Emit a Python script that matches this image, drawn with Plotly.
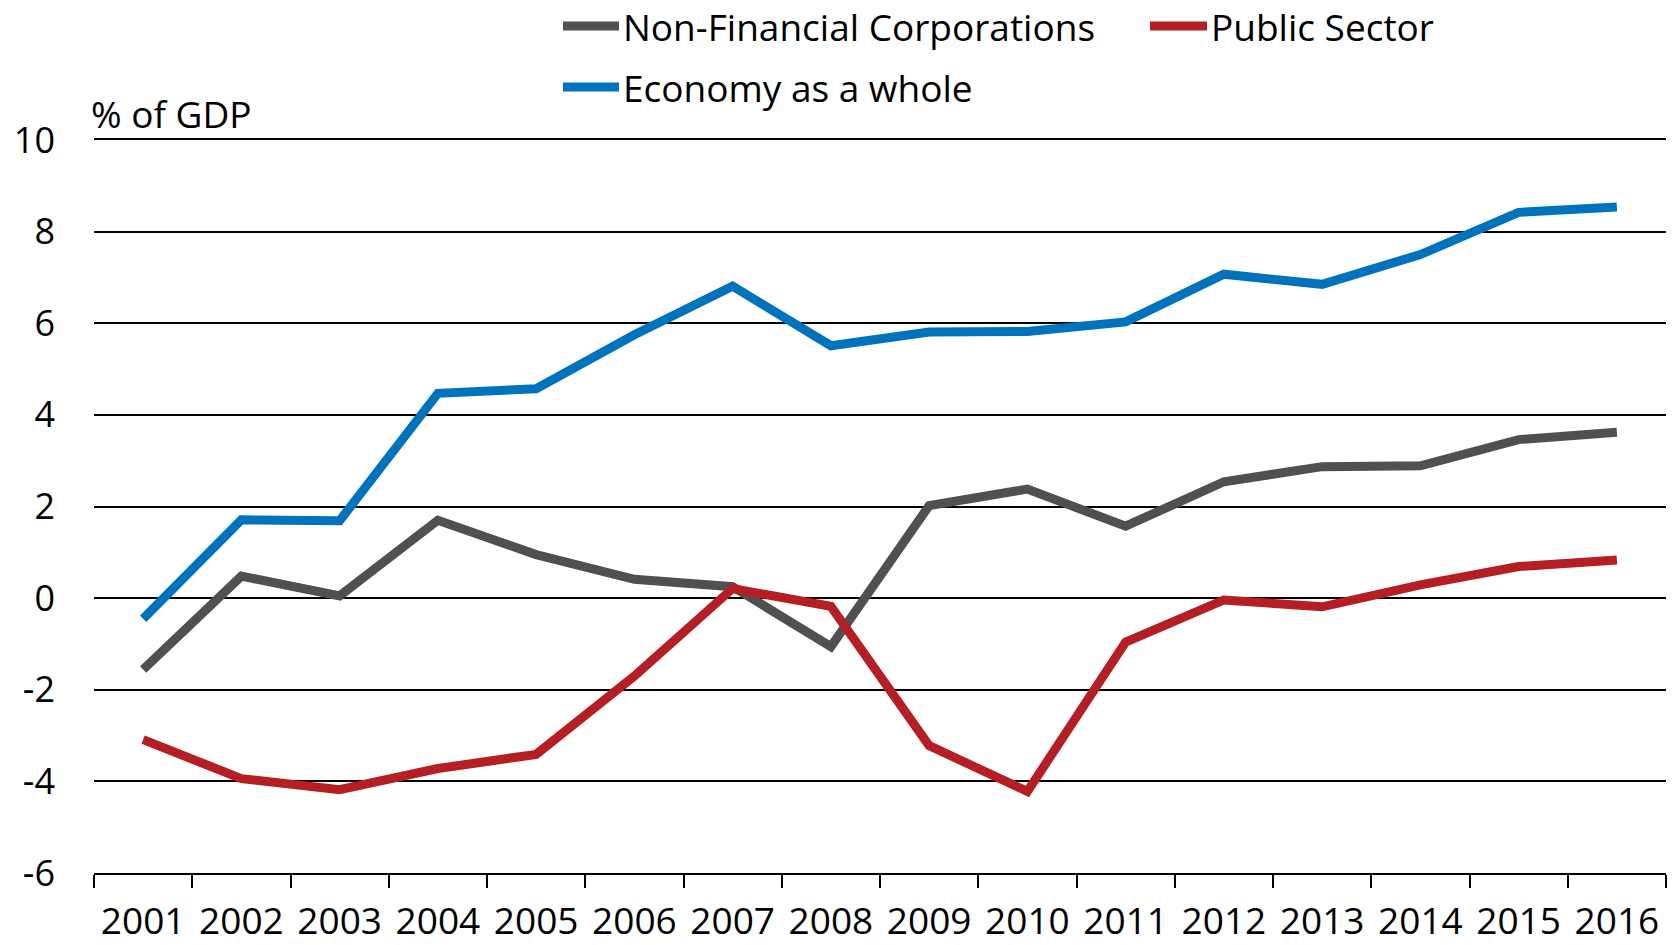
import plotly.graph_objects as go

years = ["2001", "2002", "2003", "2004", "2005", "2006", "2007", "2008",
         "2009", "2010", "2011", "2012", "2013", "2014", "2015", "2016"]

nfc = [-1.56, 0.48, 0.05, 1.70, 0.95, 0.41, 0.25, -1.06,
       2.02, 2.38, 1.57, 2.54, 2.87, 2.89, 3.46, 3.62]
public_sector = [-3.09, -3.94, -4.18, -3.72, -3.41, -1.70, 0.21, -0.18,
                 -3.22, -4.22, -0.96, -0.04, -0.19, 0.29, 0.69, 0.83]
economy = [-0.45, 1.71, 1.69, 4.47, 4.57, 5.75, 6.81, 5.51,
           5.81, 5.82, 6.03, 7.07, 6.85, 7.50, 8.42, 8.54]

series_names = ["Non-Financial Corporations", "Public Sector", "Economy as a whole"]
series_values = [nfc, public_sector, economy]
series_colors = ["#505050", "#B51F24", "#0073BC"]

y_ticks = [-6, -4, -2, 0, 2, 4, 6, 8, 10]
y_ticktext = ["-6", "-4", "-2", "0", "2", "4", "6", "8", "10"]
y_label = "% of GDP"

FONT = "Open Sans, Noto Sans, sans-serif"

W, H = 1677, 945
ML, MR, MT, MB = 94, 11, 140, 72
PW, PH = W - ML - MR, H - MT - MB

fig = go.Figure()
for name, vals, col in zip(series_names, series_values, series_colors):
    fig.add_trace(go.Scatter(x=years, y=vals, mode="lines", name=name,
                             line=dict(color=col, width=9), showlegend=False,
                             hoverinfo="skip"))

def px_x(x):
    return (x - ML) / PW

def px_y(y):
    return 1 + (MT - y) / PH

# manual legend: (symbol x0, symbol x1, text x, row y) in pixels
legend_pos = [(563, 619, 621, 26), (1150, 1207, 1209, 26), (563, 619, 621, 87)]
for (x0, x1, tx, ty), name, col in zip(legend_pos, series_names, series_colors):
    fig.add_shape(type="line", xref="paper", yref="paper",
                  x0=px_x(x0), x1=px_x(x1), y0=px_y(ty), y1=px_y(ty),
                  line=dict(color=col, width=9))
    fig.add_annotation(text=name, xref="paper", yref="paper",
                       x=px_x(tx), y=px_y(ty), xanchor="left", yanchor="middle",
                       showarrow=False, font=dict(family=FONT, size=37, color="#000"))

fig.add_annotation(text=y_label, xref="paper", yref="paper",
                   x=px_x(89), y=px_y(114), xanchor="left", yanchor="middle",
                   showarrow=False, font=dict(family=FONT, size=37, color="#000"))

fig.update_layout(
    width=W, height=H,
    margin=dict(l=ML, r=MR, t=MT, b=MB, autoexpand=False),
    paper_bgcolor="white", plot_bgcolor="white",
    font=dict(family=FONT, size=36, color="#000"),
    xaxis=dict(type="category", range=[-0.5, len(years) - 0.5],
               showgrid=False, zeroline=False, automargin=False,
               showline=True, mirror=True, linecolor="#000", linewidth=1.5,
               ticks="outside", tickson="boundaries", ticklen=13,
               tickwidth=1.5, tickcolor="#000",
               tickfont=dict(family=FONT, size=37, color="#000"),
               ticklabelstandoff=15),
    yaxis=dict(range=[-6, 10], tickvals=y_ticks, ticktext=y_ticktext,
               showgrid=True, gridcolor="#000", gridwidth=1.5, zeroline=False,
               showline=False, ticks="", automargin=False,
               tickfont=dict(family=FONT, size=36, color="#000"),
               ticklabelstandoff=38),
)

# remove the browser's default 8px page margin so the figure fills the window
fig.write_html("out.html", config={"displayModeBar": False},
               post_script="document.body.style.margin='0';")
